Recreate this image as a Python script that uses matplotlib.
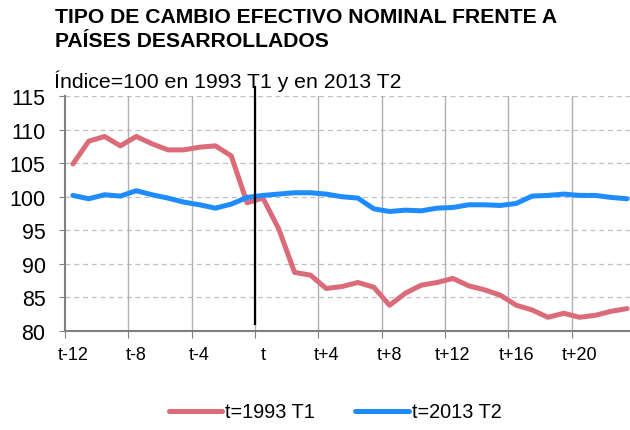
import numpy as np
import matplotlib
matplotlib.use("Agg")
from matplotlib import pyplot as plt

plt.rcParams['font.family'] = ['Liberation Sans', 'DejaVu Sans']

# quarters relative to t
periods = list(range(-12, 24))
tick_labels = ["t-12", "t-8", "t-4", "t", "t+4", "t+8", "t+12", "t+16", "t+20"]
tick_pos = [-12, -8, -4, 0, 4, 8, 12, 16, 20]

serie_1993 = [104.9, 108.3, 109.0, 107.6, 109.0, 107.9, 107.0, 107.0, 107.4, 107.6,
              106.1, 99.1, 99.8, 95.2, 88.7, 88.3, 86.3, 86.6, 87.2, 86.5,
              83.8, 85.6, 86.8, 87.2, 87.8, 86.7, 86.1, 85.3, 83.8, 83.1,
              82.0, 82.6, 82.0, 82.3, 82.9, 83.3]
serie_2013 = [100.2, 99.7, 100.3, 100.1, 100.9, 100.3, 99.8, 99.2, 98.8, 98.3,
              98.9, 99.9, 100.2, 100.4, 100.6, 100.6, 100.4, 100.0, 99.8, 98.2,
              97.8, 98.0, 97.9, 98.3, 98.4, 98.8, 98.8, 98.7, 99.0, 100.1,
              100.2, 100.4, 100.2, 100.2, 99.9, 99.7]

fig = plt.figure(figsize=(6.3, 4.31), dpi=100)
ax = fig.add_axes([65/630, (431-331.7)/431, 570/630, 234.4/431])

# grid
for y in range(85, 116, 5):
    ax.axhline(y, color="#C0C0C0", lw=0.9, ls=(0, (4, 3)), zorder=0)
for xb in np.arange(-8.5, 23, 4):
    ax.axvline(xb, color="#B0B0B0", lw=1.0, zorder=0)

ax.plot(periods, serie_1993, color="#DB6B78", lw=3.6, solid_capstyle="round",
        label="t=1993 T1", zorder=3)
ax.plot(periods, serie_2013, color="#1E8CFF", lw=3.6, solid_capstyle="round",
        label="t=2013 T2", zorder=3)

# line marking t
ax.plot([-0.5, -0.5], [81.0, 116.4], color="black", lw=1.6, clip_on=False, zorder=4)

ax.set_xlim(-12.5, 23.5)
ax.set_ylim(80, 115)
ax.set_yticks(range(80, 116, 5))
ax.tick_params(axis="y", labelsize=15.5, length=4, color="#808080", pad=10)

ax.set_xticks(np.arange(-12.5, 23, 4))
ax.set_xticklabels([])
ax.set_xticks(tick_pos, minor=True)
ax.set_xticklabels(tick_labels, minor=True)
ax.tick_params(axis="x", which="major", length=5, color="#808080", direction="out")
ax.tick_params(axis="x", which="minor", length=0, labelsize=13, pad=11)

for s in ["top", "right"]:
    ax.spines[s].set_visible(False)
for s in ["left", "bottom"]:
    ax.spines[s].set_color("#808080")
    ax.spines[s].set_linewidth(1.5)

fig.text(55/630, 1 - 8/431, "TIPO DE CAMBIO EFECTIVO NOMINAL FRENTE A\nPAÍSES DESARROLLADOS",
         fontsize=15.2, fontweight="bold", va="top", ha="left", linespacing=1.35)
fig.text(54/630, 1 - 88/431, "Índice=100 en 1993 T1 y en 2013 T2", fontsize=15.3,
         va="baseline", ha="left")

fig.legend(loc="center", bbox_to_anchor=(335/630, 1 - 413/431), ncol=2, frameon=False,
           fontsize=14.3, handlelength=2.7, handletextpad=0.15, columnspacing=2.0)

fig.savefig("out.png", dpi=100)
